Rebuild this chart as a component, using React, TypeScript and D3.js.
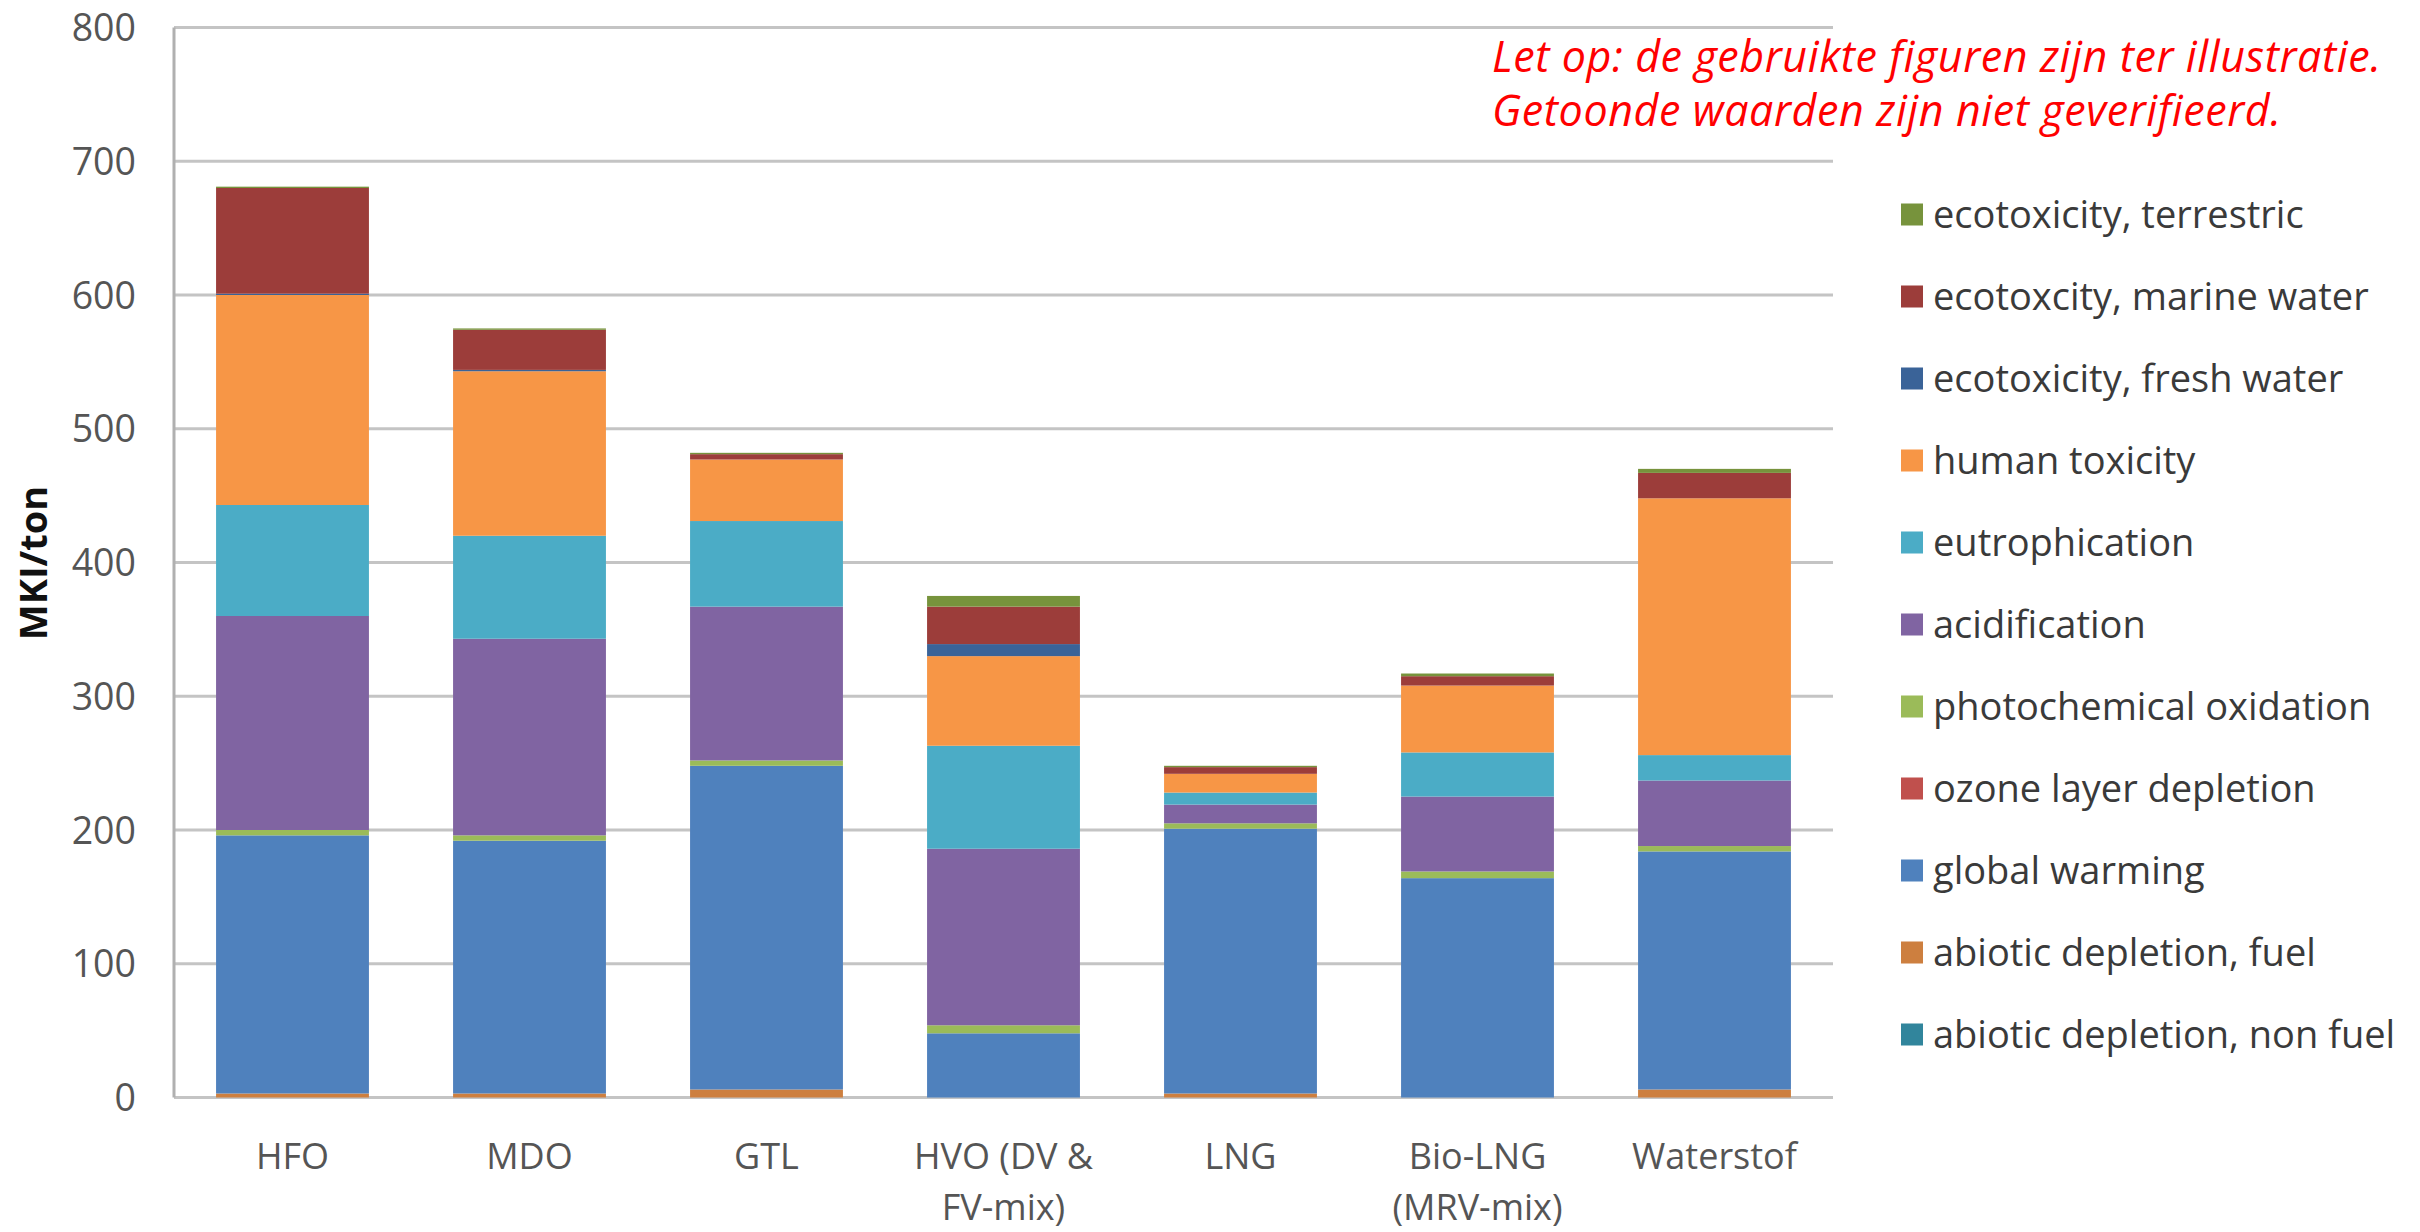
import React from 'react';
import * as d3 from 'd3';

const categories = ['HFO', 'MDO', 'GTL', 'HVO (DV & FV-mix)', 'LNG', 'Bio-LNG (MRV-mix)', 'Waterstof'];
const categoryLines = [['HFO'], ['MDO'], ['GTL'], ['HVO (DV &', 'FV-mix)'], ['LNG'], ['Bio-LNG', '(MRV-mix)'], ['Waterstof']];

// stacked bottom -> top
const seriesNames = [
  'abiotic depletion, non fuel',
  'abiotic depletion, fuel',
  'global warming',
  'ozone layer depletion',
  'photochemical oxidation',
  'acidification',
  'eutrophication',
  'human toxicity',
  'ecotoxicity, fresh water',
  'ecotoxcity, marine water',
  'ecotoxicity, terrestric',
];
const seriesColors = ['#31859C', '#CD7F3F', '#4F81BD', '#C0504D', '#9BBB59', '#8064A2', '#4BACC6', '#F79646', '#3A6398', '#9C3D3A', '#77933C'];

const abioticNonFuel = [0, 0, 0, 0, 0, 0, 0];
const abioticFuel = [3, 3, 6, 0, 3, 0, 6];
const globalWarming = [193, 189, 242, 48, 198, 164, 178];
const ozoneDepletion = [0, 0, 0, 0, 0, 0, 0];
const photochemical = [4, 4, 4, 6, 4, 5, 4];
const acidification = [160, 147, 115, 132, 14, 56, 49];
const eutrophication = [83, 77, 64, 77, 9, 33, 19];
const humanToxicity = [157, 123, 46, 67, 14, 50, 192];
const ecoFresh = [1, 1, 0, 9, 0, 0, 0];
const ecoMarine = [79, 30, 4, 28, 5, 7, 19];
const ecoTerrestric = [1, 1, 1, 8, 1, 2, 3];

const seriesValues = [abioticNonFuel, abioticFuel, globalWarming, ozoneDepletion, photochemical, acidification, eutrophication, humanToxicity, ecoFresh, ecoMarine, ecoTerrestric];

const yTicks = [0, 100, 200, 300, 400, 500, 600, 700, 800];

const W = 2420;
const H = 1232;
const left = 174;
const right = 1833;
const top = 27.5;
const bottom = 1097.5;
const font = '"Open Sans", "DejaVu Sans", sans-serif';

export default function App() {
  const rows = categories.map((c, i) => {
    const r: any = { cat: c };
    seriesNames.forEach((s, j) => { r[s] = seriesValues[j][i]; });
    return r;
  });
  const stacked = d3.stack().keys(seriesNames)(rows);

  const x = d3.scaleBand().domain(categories).range([left, right]).paddingInner(0.355).paddingOuter(0.1775);
  const y = d3.scaleLinear().domain([0, 800]).range([bottom, top]);

  const legendOrder = seriesNames.map((_, i) => i).reverse();

  return (
    <div style={{ position: 'absolute', left: 0, top: 0 }}>
      <svg width={W} height={H} style={{ display: 'block', background: '#fff' }}>
        {yTicks.map(t => (
          <g key={t}>
            <line x1={left} x2={right} y1={y(t)} y2={y(t)} stroke="#c4c4c4" strokeWidth={3} />
            <text x={136} y={y(t)} dy="0.36em" textAnchor="end" fontFamily={font} fontSize={37.5} fill="#555">{t}</text>
          </g>
        ))}
        <line x1={left} x2={left} y1={top} y2={bottom} stroke="#b0b0b0" strokeWidth={3} />

        {stacked.map((layer, j) => (
          <g key={layer.key} fill={seriesColors[j]}>
            {layer.map((d, i) => (
              d[1] - d[0] > 0 ? (
                <rect key={i} x={x(categories[i])} width={x.bandwidth()} y={y(d[1])} height={y(d[0]) - y(d[1])} />
              ) : null
            ))}
          </g>
        ))}

        {categoryLines.map((lines, i) => (
          <text key={i} x={(x(categories[i]) as number) + x.bandwidth() / 2} y={1169} textAnchor="middle" fontFamily={font} fontSize={36} fill="#555">
            {lines.map((l, k) => <tspan key={k} x={(x(categories[i]) as number) + x.bandwidth() / 2} dy={k === 0 ? 0 : 51}>{l}</tspan>)}
          </text>
        ))}

        <text transform="translate(47,563) rotate(-90)" textAnchor="middle" fontFamily={font} fontSize={38} fontWeight="bold" fill="#111">MKI/ton</text>

        {legendOrder.map((j, k) => (
          <g key={j} transform={`translate(1901,${214.5 + k * 82})`}>
            <rect x={0} y={-11} width={22} height={22} fill={seriesColors[j]} />
            <text x={32} y={0} dy="0.35em" fontFamily={font} fontSize={38} fill="#3a3a3a">{seriesNames[j]}</text>
          </g>
        ))}

        <text x={1492} y={72} fontFamily={font} fontStyle="italic" fontSize={43} letterSpacing={0.6} fill="#ff0000">Let op: de gebruikte figuren zijn ter illustratie.</text>
        <text x={1492} y={126} fontFamily={font} fontStyle="italic" fontSize={43} letterSpacing={0.6} fill="#ff0000">Getoonde waarden zijn niet geverifieerd.</text>
      </svg>
    </div>
  );
}
